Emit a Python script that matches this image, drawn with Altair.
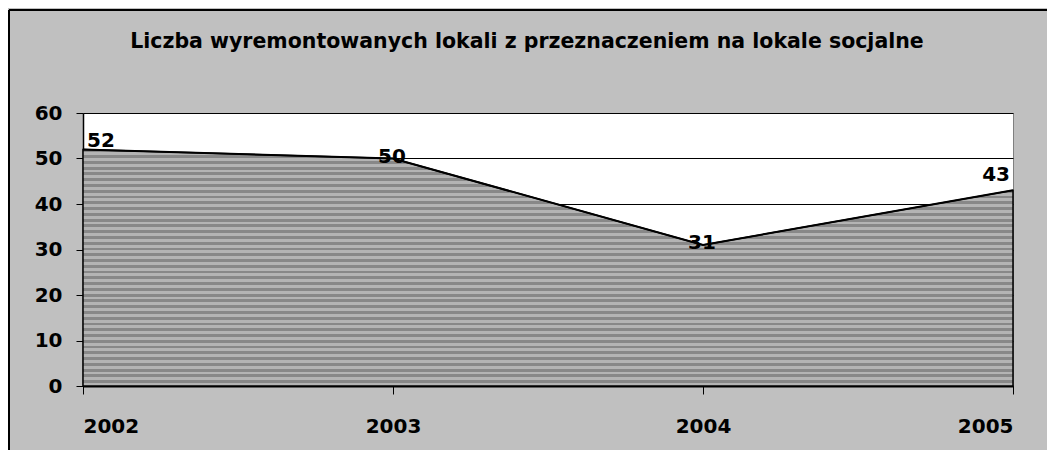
import altair as alt
import pandas as pd

years = [2002, 2003, 2004, 2005]
values = [52, 50, 31, 43]
y_ticks = [0, 10, 20, 30, 40, 50, 60]
title_text = "Liczba wyremontowanych lokali z przeznaczeniem na lokale socjalne"

df = pd.DataFrame({"rok": years, "liczba": values})

FONT = "DejaVu Sans"

# horizontal stripe pattern built as a hard-stop linear gradient
n_periods = 41
stops = []
for i in range(n_periods):
    a = i / n_periods
    m = (i + 0.5) / n_periods
    b = (i + 1) / n_periods
    stops.append(alt.GradientStop(color="#888888", offset=a))
    stops.append(alt.GradientStop(color="#888888", offset=m))
    stops.append(alt.GradientStop(color="#b4b4b4", offset=m))
    stops.append(alt.GradientStop(color="#b4b4b4", offset=b))
stripes = alt.LinearGradient(gradient="linear", stops=stops, x1=0, x2=0, y1=0, y2=1)

x_enc = alt.X("rok:Q", scale=alt.Scale(domain=[2002, 2005], nice=False, zero=False),
              axis=alt.Axis(values=years, format="d", title=None, grid=False,
                            tickSize=8, labelPadding=22, domainColor="black",
                            tickColor="black", labelFontSize=20, labelFontWeight="bold",
                            labelFont=FONT, labelColor="black", domainWidth=2))
y_enc = alt.Y("liczba:Q", scale=alt.Scale(domain=[0, 60], nice=False),
              axis=alt.Axis(values=y_ticks, title=None, grid=True, gridColor="black",
                            gridWidth=1, tickSize=7, labelPadding=14, domainColor="black",
                            tickColor="black", labelFontSize=20, labelFontWeight="bold",
                            labelFont=FONT, labelColor="black", domainWidth=1.5))

base = alt.Chart(df)

area = base.mark_area(fill=stripes, stroke="black", strokeWidth=1.5, opacity=1).encode(x=x_enc, y=y_enc)
line = base.mark_line(color="black", strokeWidth=2).encode(x="rok:Q", y="liczba:Q")

lbl_kw = dict(fontSize=20, fontWeight="bold", font=FONT, color="black", baseline="middle")
lbl_first = base.transform_filter(alt.datum.rok == years[0]).mark_text(
    align="left", dx=4, dy=-8, **lbl_kw).encode(x="rok:Q", y="liczba:Q", text="liczba:Q")
lbl_mid = base.transform_filter((alt.datum.rok != years[0]) & (alt.datum.rok != years[-1])).mark_text(
    align="center", dx=-1, dy=-2, **lbl_kw).encode(x="rok:Q", y="liczba:Q", text="liczba:Q")
lbl_last = base.transform_filter(alt.datum.rok == years[-1]).mark_text(
    align="right", dx=-3, dy=-15, **lbl_kw).encode(x="rok:Q", y="liczba:Q", text="liczba:Q")

# chart title drawn as a text mark inside the frame
title = alt.Chart(pd.DataFrame({"t": [title_text]})).mark_text(
    fontSize=20.5, fontWeight="bold", font=FONT, color="black", align="center", baseline="middle"
).encode(text="t:N", x=alt.value(444), y=alt.value(-71))

# outer chart frame (left and top edges visible)
frame_left = alt.Chart(df).mark_rule(color="black", strokeWidth=1.5).encode(
    x=alt.value(-74), y=alt.value(-103), y2=alt.value(400))
frame_top = alt.Chart(df).mark_rule(color="black", strokeWidth=1.5).encode(
    x=alt.value(-74), x2=alt.value(1000), y=alt.value(-103))

chart = alt.layer(area, line, lbl_first, lbl_mid, lbl_last, title, frame_left, frame_top).properties(
    width=930,
    height=273,
    autosize=alt.AutoSizeParams(type="none"),
    padding={"left": 75, "top": 105, "right": 34, "bottom": 64},
    background="#c0c0c0",
).configure_view(stroke="#808080", strokeWidth=1, fill="white")

chart.save("out.html", embed_options={"renderer": "svg", "actions": False})
